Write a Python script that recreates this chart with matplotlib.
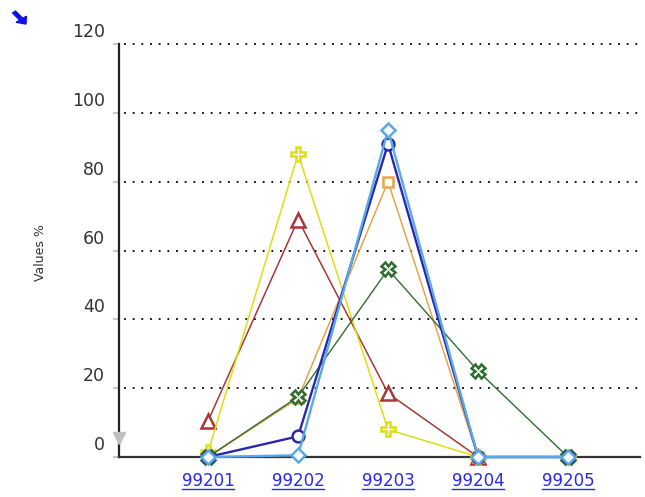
import numpy as np
import matplotlib
matplotlib.use("Agg")
import matplotlib.pyplot as plt
from matplotlib.lines import Line2D
from matplotlib.transforms import ScaledTranslation

# data
codes = ["99201", "99202", "99203", "99204", "99205"]
red_tri = [10.5, 69, 18.5, 0, np.nan]
yellow_plus = [1.5, 88, 8, 0, 0]
orange_sq = [0, 17, 80, 0, np.nan]
green_x = [0, 17.5, 54.5, 25, 0]
navy_circ = [0, 6, 91, 0, 0]
blue_diam = [0, 0.5, 95, 0, 0]
y_ticks = [0, 20, 40, 60, 80, 100, 120]

fig = plt.figure(figsize=(6.45, 4.97), dpi=100)
ax = fig.add_axes([119 / 645, 40 / 497, 521 / 645, 413 / 497])

x = np.arange(len(codes))
series = [
    (red_tri, "#a83838", "^", 9.5, 1.1),
    (yellow_plus, "#dede10", "P", 9.5, 1.1),
    (orange_sq, "#e8a44c", "s", 7.5, 1.1),
    (green_x, "#2f6e2f", "X", 9.5, 1.0),
    (navy_circ, "#2828a8", "o", 8.5, 1.7),
    (blue_diam, "#5aa8e8", "D", 7.5, 1.7),
]
for i, (vals, col, mk, ms, lw) in enumerate(series):
    ax.plot(x, vals, color=col, lw=lw, marker=mk, ms=ms, mfc="white",
            mec=col, mew=1.8, clip_on=False, zorder=3 + i)

ax.set_xlim(-0.99, 4.8)
ax.set_ylim(0, 120)
ax.set_yticks(y_ticks)
ax.set_xticks(x)
ax.set_xticklabels(codes)

ax.grid(axis="y", color="black", linestyle=(2, (1, 3.8)), lw=1.3)
for gl in ax.get_ygridlines():
    gl.set_clip_on(False)
ax.set_axisbelow(True)
for s in ["top", "right"]:
    ax.spines[s].set_visible(False)
ax.spines["left"].set_linewidth(1.6)
ax.spines["left"].set_color("#222222")
ax.spines["bottom"].set_linewidth(1.6)
ax.spines["bottom"].set_color("#333333")

ax.tick_params(axis="y", length=4, width=1.5, color="#c8c8c8", pad=6,
               labelsize=12.5, labelcolor="#333333")
ax.tick_params(axis="x", length=0, pad=11, labelsize=12, labelcolor="#2a2ae8")

# y labels sit a bit above their gridlines
for lab in ax.get_yticklabels():
    lab.set_verticalalignment("bottom")
    lab.set_transform(lab.get_transform() + ScaledTranslation(0, 0.03, fig.dpi_scale_trans))

fig.text(40 / 645, 1 - 253 / 497, "Values %", rotation=90, ha="center",
         va="center", fontsize=9, color="#333333")

# grey down triangle next to zero
ax.plot([0.0], [5.5], marker="v", ms=9, color="#c0c0c0", mec="#c0c0c0",
        transform=ax.get_yaxis_transform(), clip_on=False, zorder=10)

# blue arrow icon top left
fig.add_artist(matplotlib.patches.FancyArrow(
    14 / 645, 1 - 12 / 497, 12 / 645, -12 / 497, width=0.006,
    head_width=0.02, head_length=0.012, color="#1010ee",
    transform=fig.transFigure, length_includes_head=True))

# underline the category links
fig.canvas.draw()
inv = fig.transFigure.inverted()
for lab in ax.get_xticklabels():
    bb = lab.get_window_extent()
    (x0, y0), (x1, _) = inv.transform([(bb.x0, bb.y0 + 1), (bb.x1, bb.y0)])
    fig.add_artist(Line2D([x0, x1], [y0, y0], color="#2a2ae8", lw=1,
                          transform=fig.transFigure))

fig.savefig("out.png", dpi=100)
